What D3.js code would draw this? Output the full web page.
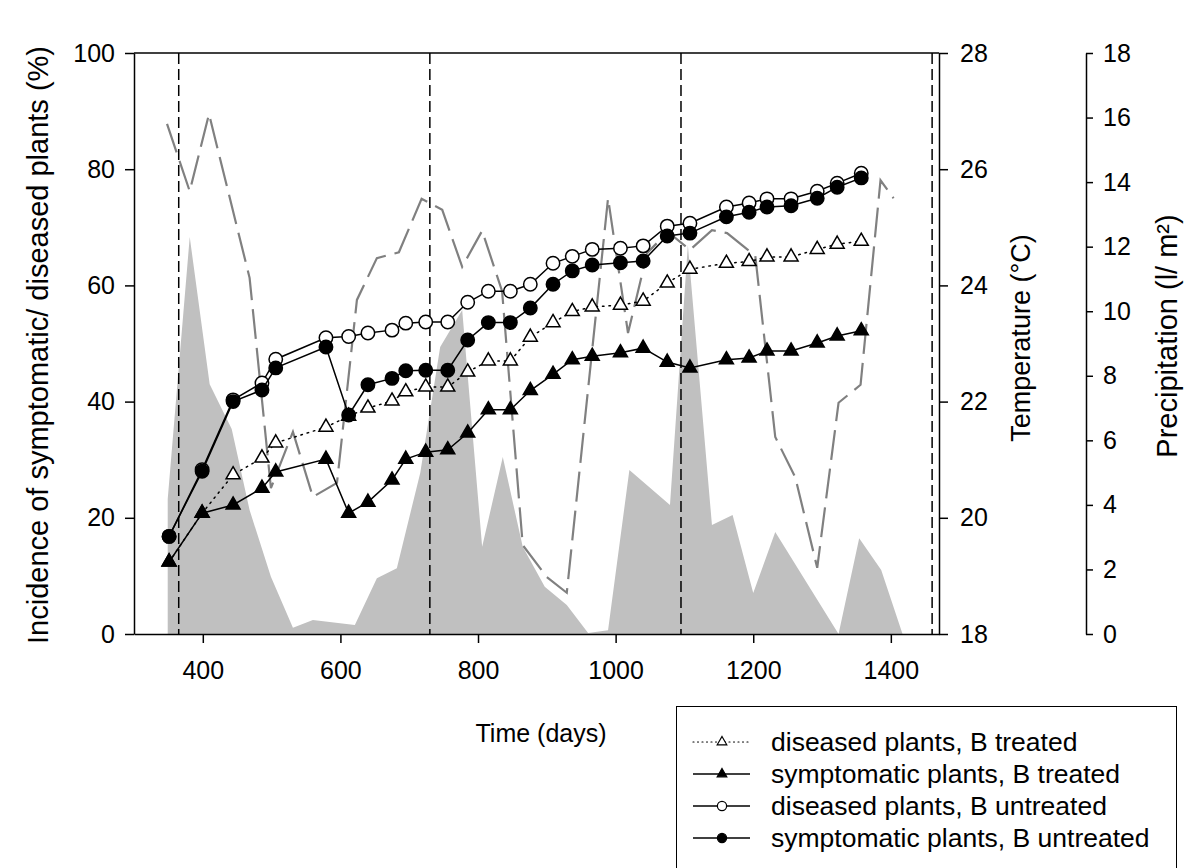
<!DOCTYPE html>
<html>
<head>
<meta charset="utf-8">
<script src="https://cdn.jsdelivr.net/npm/d3@7"></script>
<style>
  html, body { margin: 0; padding: 0; background: #fff; }
  svg { display: block; }
  text { font-family: "Liberation Sans", Arial, sans-serif; fill: #000; }
</style>
</head>
<body>
<svg id="chart" width="1196" height="868"></svg>
<script>
// ---------- data ----------
const days = [351, 399, 444, 486, 506, 579, 612, 640, 675, 695, 724, 756, 785, 815, 847, 876, 909, 937, 966, 1007, 1040, 1075, 1108, 1161, 1194, 1220, 1255, 1293, 1322, 1357];
const diseasedTreated = [12.4, 20.8, 27.4, 30.3, 32.9, 35.6, 37.5, 38.9, 40.1, 41.7, 42.5, 42.5, 45.1, 47.0, 47.0, 51.1, 53.6, 55.5, 56.3, 56.6, 57.3, 60.4, 62.8, 63.8, 64.1, 64.9, 64.9, 66.2, 67.1, 67.6];
const symptomaticTreated = [12.4, 20.8, 22.2, 25.1, 27.9, 30.1, 20.8, 22.7, 26.5, 30.1, 31.3, 31.7, 34.6, 38.6, 38.6, 41.9, 44.7, 47.2, 47.8, 48.4, 49.2, 46.8, 45.8, 47.2, 47.5, 48.7, 48.7, 50.1, 51.3, 52.2];
const diseasedUntreated = [16.8, 28.3, 40.3, 43.2, 47.3, 51.0, 51.2, 51.8, 52.3, 53.5, 53.7, 53.7, 57.1, 59.0, 59.0, 60.2, 63.8, 65.0, 66.2, 66.4, 66.8, 70.2, 70.7, 73.5, 74.2, 74.9, 74.9, 76.2, 77.6, 79.3];
const symptomaticUntreated = [16.8, 28.0, 40.0, 42.0, 45.8, 49.4, 37.7, 42.9, 44.0, 45.3, 45.4, 45.4, 50.6, 53.6, 53.6, 56.1, 60.2, 62.5, 63.5, 63.9, 64.2, 68.5, 69.0, 71.8, 72.6, 73.5, 73.7, 75.0, 76.9, 78.5];

const tempDays = [348, 381, 409, 468, 499, 531, 560, 595, 624, 653, 685, 718, 748, 777, 806, 835, 865, 900, 929, 989, 1018, 1046, 1076, 1108, 1140, 1162, 1203, 1232, 1261, 1293, 1324, 1356, 1385, 1404];
const tempVals = [26.78, 25.62, 26.95, 24.13, 20.51, 21.48, 20.36, 20.60, 23.75, 24.47, 24.57, 25.49, 25.30, 24.32, 24.94, 23.90, 19.53, 18.98, 18.71, 25.50, 23.18, 24.56, 24.92, 24.61, 24.95, 24.90, 24.51, 21.39, 20.70, 19.14, 21.98, 22.29, 25.81, 25.50];

const precipDays = [349, 381, 410, 442, 468, 499, 531, 560, 621, 653, 682, 716, 745, 777, 806, 836, 865, 897, 929, 960, 989, 1020, 1079, 1105, 1140, 1170, 1200, 1232, 1324, 1354, 1386, 1417];
const precipVals = [4.18, 12.3, 7.74, 6.35, 3.84, 1.77, 0.19, 0.43, 0.28, 1.73, 2.04, 4.99, 8.89, 10.04, 2.70, 5.48, 2.70, 1.46, 0.90, 0.03, 0.12, 5.08, 4.0, 12.05, 3.38, 3.69, 1.27, 3.16, 0, 2.97, 1.98, 0];

const yearMarks = [365, 730, 1095, 1460];
const xTicks = [400, 600, 800, 1000, 1200, 1400];
const yTicks = [0, 20, 40, 60, 80, 100];
const tTicks = [18, 20, 22, 24, 26, 28];
const pTicks = [0, 2, 4, 6, 8, 10, 12, 14, 16, 18];

const legendLabels = ["diseased plants, B treated", "symptomatic plants, B treated", "diseased plants, B untreated", "symptomatic plants, B untreated"];

// ---------- layout ----------
const svg = d3.select("#chart");
const L = 134, R = 939, T = 53, B = 634;
const x = d3.scaleLinear().domain([300, 1470]).range([L, R]);
const y = d3.scaleLinear().domain([0, 100]).range([B, T]);
const yT = d3.scaleLinear().domain([18, 28]).range([B, T]);
const yP = d3.scaleLinear().domain([0, 18]).range([B, T]);
const FS = 25;
const fmt = d3.format("d");

// precipitation area
const precip = precipDays.map((d, i) => ({d, v: precipVals[i]}));
svg.append("path").datum(precip)
  .attr("fill", "#c0c0c0")
  .attr("d", d3.area().x(p => x(p.d)).y0(yP(0)).y1(p => yP(p.v)));

// year marks
svg.selectAll(".ym").data(yearMarks).join("line")
  .attr("x1", d => x(d)).attr("x2", d => x(d))
  .attr("y1", T).attr("y2", B)
  .attr("stroke", "#000").attr("stroke-width", 1.5)
  .attr("stroke-dasharray", "11,5");

// temperature
const temp = tempDays.map((d, i) => ({d, v: tempVals[i]}));
svg.append("path").datum(temp)
  .attr("fill", "none").attr("stroke", "#808080").attr("stroke-width", 2.2)
  .attr("stroke-dasharray", "30,9")
  .attr("d", d3.line().x(p => x(p.d)).y(p => yT(p.v)));

// series
const triangle = d3.symbol().type(d3.symbolTriangle);
const series = [
  {vals: diseasedTreated, dash: "1.5,5", marker: "tri", fill: "#fff"},
  {vals: symptomaticTreated, dash: null, marker: "tri", fill: "#000"},
  {vals: diseasedUntreated, dash: null, marker: "circ", fill: "#fff"},
  {vals: symptomaticUntreated, dash: null, marker: "circ", fill: "#000"}
];
series.forEach(s => {
  const pts = days.map((d, i) => ({d, v: s.vals[i]}));
  const p = svg.append("path").datum(pts)
    .attr("fill", "none").attr("stroke", "#000").attr("stroke-width", 1.5)
    .attr("d", d3.line().x(q => x(q.d)).y(q => y(q.v)));
  if (s.dash) p.attr("stroke-dasharray", s.dash).attr("stroke-linecap", "round");
  const g = svg.append("g");
  if (s.marker === "tri") {
    g.selectAll("path").data(pts).join("path")
      .attr("d", triangle.size(85)())
      .attr("transform", q => `translate(${x(q.d)},${y(q.v)})`)
      .attr("fill", s.fill).attr("stroke", "#000").attr("stroke-width", 1.5);
  } else {
    g.selectAll("circle").data(pts).join("circle")
      .attr("cx", q => x(q.d)).attr("cy", q => y(q.v)).attr("r", 6.7)
      .attr("fill", s.fill).attr("stroke", "#000").attr("stroke-width", 1.5);
  }
});

// frame top
svg.append("line").attr("x1", L).attr("x2", R).attr("y1", T).attr("y2", T).attr("stroke", "#000").attr("stroke-width", 1.5);

// axes
const axisStyle = g => {
  g.selectAll("path.domain").attr("stroke", "#000").attr("stroke-width", 1.5);
  g.selectAll(".tick line").attr("stroke", "#000").attr("stroke-width", 1.5);
  g.selectAll("text").style("font-family", '"Liberation Sans", Arial, sans-serif').style("font-size", FS + "px").attr("fill", "#000");
};
svg.append("g").attr("transform", `translate(0,${B})`)
  .call(d3.axisBottom(x).tickValues(xTicks).tickFormat(fmt).tickSize(9).tickSizeOuter(0).tickPadding(18))
  .call(axisStyle);
svg.append("g").attr("transform", `translate(${L},0)`)
  .call(d3.axisLeft(y).tickValues(yTicks).tickFormat(fmt).tickSize(9).tickSizeOuter(0).tickPadding(10))
  .call(axisStyle);
svg.append("g").attr("transform", `translate(${R},0)`)
  .call(d3.axisRight(yT).tickValues(tTicks).tickFormat(fmt).tickSize(9).tickSizeOuter(0).tickPadding(12))
  .call(axisStyle);
const PX = 1086;
svg.append("g").attr("transform", `translate(${PX},0)`)
  .call(d3.axisRight(yP).tickValues(pTicks).tickFormat(fmt).tickSize(7).tickSizeOuter(0).tickPadding(10))
  .call(axisStyle);

// titles
svg.append("text").attr("x", 541).attr("y", 742).attr("text-anchor", "middle")
  .style("font-size", "25px").text("Time (days)");
svg.append("text").attr("transform", `translate(48,345) rotate(-90)`).attr("text-anchor", "middle")
  .style("font-size", "29px").text("Incidence of symptomatic/ diseased plants (%)");
svg.append("text").attr("transform", `translate(1030,338) rotate(-90)`).attr("text-anchor", "middle")
  .style("font-size", "27px").text("Temperature (°C)");
svg.append("text").attr("transform", `translate(1177,336) rotate(-90)`).attr("text-anchor", "middle")
  .style("font-size", "29px").text("Precipitation (l/ m²)");

// legend
const lg = svg.append("g");
lg.append("rect").attr("x", 676.5).attr("y", 706.5).attr("width", 500).attr("height", 200)
  .attr("fill", "#fff").attr("stroke", "#000").attr("stroke-width", 1);
const rowY = [742, 774, 806, 838];
series.forEach((s, i) => {
  const ry = rowY[i];
  const ln = lg.append("line").attr("x1", 693).attr("x2", 750).attr("y1", ry).attr("y2", ry)
    .attr("stroke", "#000").attr("stroke-width", s.dash ? 1.2 : 1.5);
  if (s.dash) ln.attr("stroke-dasharray", "1,3.5").attr("stroke-linecap", "round");
  if (s.marker === "tri") {
    lg.append("path").attr("d", triangle.size(40)())
      .attr("transform", `translate(722,${ry})`)
      .attr("fill", s.fill).attr("stroke", "#000").attr("stroke-width", 1.2);
  } else {
    lg.append("circle").attr("cx", 722).attr("cy", ry).attr("r", 4.6)
      .attr("fill", s.fill).attr("stroke", "#000").attr("stroke-width", 1.2);
  }
  lg.append("text").attr("x", 771).attr("y", ry).attr("dy", "0.35em")
    .style("font-size", "26.5px").text(legendLabels[i]);
});
</script>
</body>
</html>
